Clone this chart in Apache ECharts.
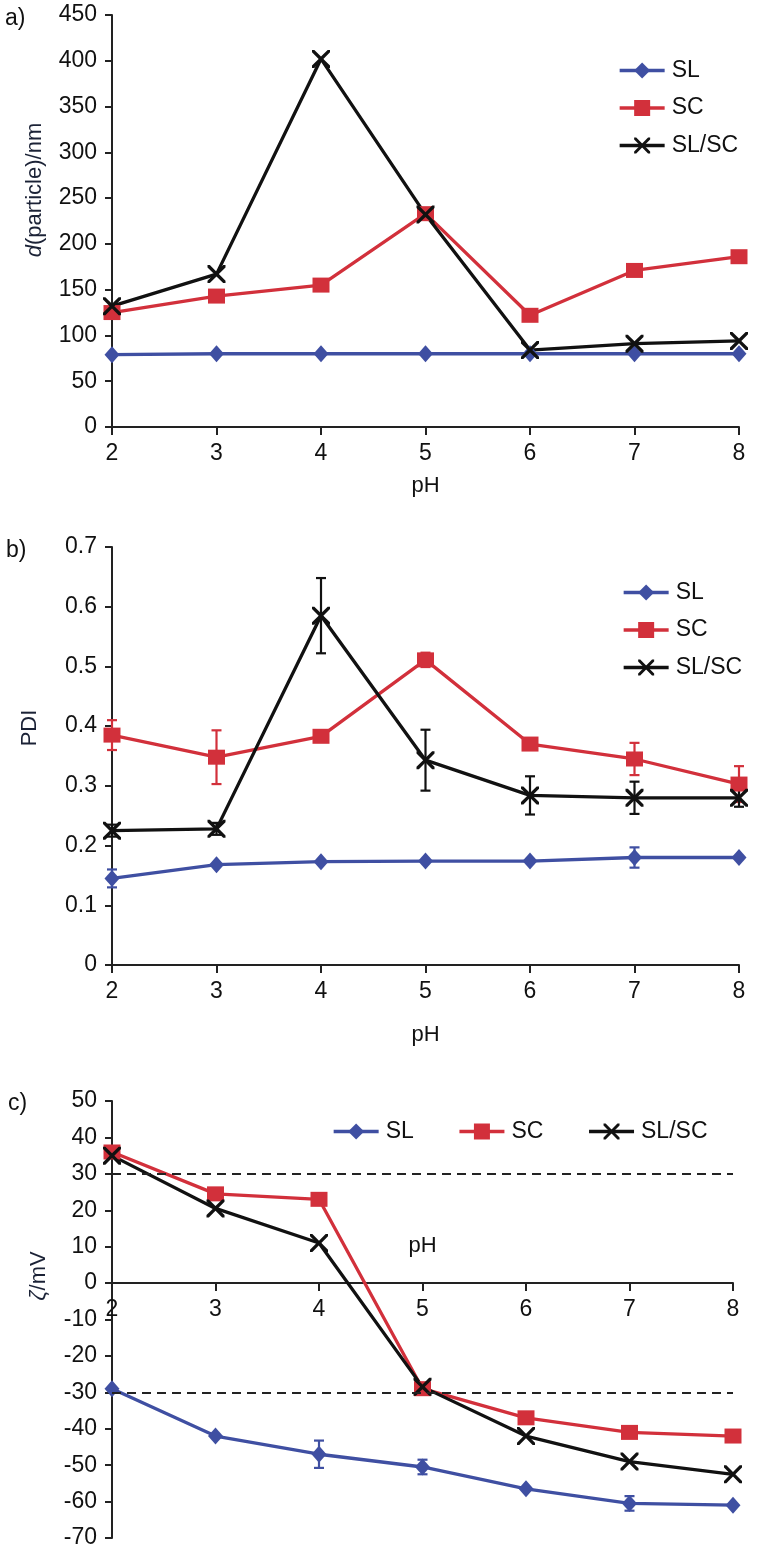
<!DOCTYPE html>
<html>
<head>
<meta charset="utf-8">
<script src="https://cdn.jsdelivr.net/npm/echarts@6/dist/echarts.min.js"></script>
<style>
html,body{margin:0;padding:0;background:#fff;}
#chart{width:758px;height:1547px;}
</style>
</head>
<body>
<div id="chart"></div>
<script>
// ---- data ----
const pH = [2, 3, 4, 5, 6, 7, 8];
const seriesNames = ['SL', 'SC', 'SL/SC'];
// a) particle size, nm
const sizeSL = [79, 80, 80, 80, 80, 80, 80];
const sizeSC = [125, 143, 155, 233, 122, 171, 186];
const sizeMix = [132, 167, 402, 232, 84, 91, 94];
// b) PDI
const pdiSL = [0.145, 0.168, 0.173, 0.174, 0.174, 0.180, 0.180];
const pdiSC = [0.385, 0.348, 0.383, 0.511, 0.370, 0.345, 0.303];
const pdiMix = [0.225, 0.228, 0.585, 0.343, 0.284, 0.280, 0.280];
const pdiErrSL = [0.015, 0, 0, 0, 0, 0.017, 0];
const pdiErrSC = [0.025, 0.045, 0.005, 0.012, 0.005, 0.027, 0.03];
const pdiErrMix = [0.01, 0.01, 0.063, 0.051, 0.032, 0.027, 0.015];
// c) zeta potential, mV
const zetaSL = [-29, -42, -47, -50.5, -56.5, -60.5, -61];
const zetaSC = [36, 24.5, 23, -29, -37, -41, -42];
const zetaMix = [35, 20.5, 11, -28.5, -42, -49, -52.5];
const zetaErrSL = [0, 0, 3.75, 2, 0, 2, 0];
const stabilityLimits = [30, -30];
// axis ticks
const sizeTicks = {min: 0, max: 450, interval: 50};
const pdiTicks = {min: 0, max: 0.7, interval: 0.1};
const zetaTicks = {min: -70, max: 50, interval: 10};

// ---- style ----
const FONT = 'Liberation Sans, Arial, sans-serif';
const FS = 23;
const BLUE = '#3f4fa2';
const RED = '#d2303b';
const BLACK = '#111111';
const colors = [BLUE, RED, BLACK];
const XPATH = 'path://M0,0 L2.6,0 L10,7.4 L17.4,0 L20,0 L20,2.6 L12.6,10 L20,17.4 L20,20 L17.4,20 L10,12.6 L2.6,20 L0,20 L0,17.4 L7.4,10 L0,2.6 Z';
const symbols = ['diamond', 'rect', XPATH];
const symbolSizes = [[15, 17], [17, 15], 18];

const chart = echarts.init(document.getElementById('chart'), null, {renderer: 'canvas'});

const grids = [
  {left: 112, top: 15, width: 627, height: 412, outerBoundsMode: 'none', containLabel: false},
  {left: 112, top: 547, width: 627, height: 418, outerBoundsMode: 'none', containLabel: false},
  {left: 112, top: 1101, width: 621, height: 437, outerBoundsMode: 'none', containLabel: false}
];
// pixel distance from bottom of grid c to its zero line (for placing the pH axis at zeta = 0)
const zeroOffsetC = -grids[2].height * (0 - zetaTicks.min) / (zetaTicks.max - zetaTicks.min);

function xAxisFor(gi, nameGap, labelMargin, offset) {
  return {
    type: 'value', gridIndex: gi, min: 2, max: 8, interval: 1, position: 'bottom', offset: offset || 0,
    name: 'pH', nameLocation: 'middle', nameGap: nameGap,
    nameTextStyle: {fontFamily: FONT, fontSize: 22, color: BLACK},
    axisLine: {show: true, onZero: false, lineStyle: {color: '#222', width: 2}},
    axisTick: {show: true, inside: false, length: 8, lineStyle: {color: '#222', width: 2}},
    axisLabel: {fontFamily: FONT, fontSize: FS, color: BLACK, margin: labelMargin},
    splitLine: {show: false}
  };
}
function yAxisFor(gi, ticks, name, nameGap, shiftPad, rich) {
  return {
    type: 'value', gridIndex: gi, min: ticks.min, max: ticks.max, interval: ticks.interval,
    name: name, nameLocation: 'middle', nameGap: nameGap,
    nameTextStyle: {fontFamily: FONT, fontSize: 22, color: '#1b2236', padding: [0, 0, 0, shiftPad], rich: rich},
    axisLine: {show: true, onZero: false, lineStyle: {color: '#222', width: 2}},
    axisTick: {show: true, inside: false, length: 7, lineStyle: {color: '#222', width: 2}},
    axisLabel: {fontFamily: FONT, fontSize: FS, color: BLACK, margin: 15},
    splitLine: {show: false}
  };
}
const italicRich = {i: {fontFamily: FONT, fontSize: 22, fontStyle: 'italic', color: '#1b2236'}};

function lineSeries(gi, idx, values) {
  return {
    type: 'line', name: seriesNames[idx], xAxisIndex: gi, yAxisIndex: gi,
    data: pH.map((p, i) => [p, values[i]]),
    symbol: symbols[idx], symbolSize: symbolSizes[idx], showAllSymbol: true,
    lineStyle: {color: colors[idx], width: 3.3},
    itemStyle: {color: colors[idx], borderWidth: 0},
    emphasis: {disabled: true}, z: 3, animation: false
  };
}
function errSeries(gi, idx, values, errs) {
  return {
    type: 'custom', name: 'err-' + gi + '-' + idx, xAxisIndex: gi, yAxisIndex: gi,
    data: pH.map((p, i) => [p, values[i], errs[i]]),
    z: 2, animation: false, silent: true,
    renderItem: function (params, api) {
      const x = api.value(0), y = api.value(1), e = api.value(2);
      if (!e) return null;
      const t = api.coord([x, y + e]);
      const b = api.coord([x, y - e]);
      const w = 5;
      const st = {stroke: colors[idx], lineWidth: 2.2};
      return {type: 'group', children: [
        {type: 'line', shape: {x1: t[0], y1: t[1], x2: b[0], y2: b[1]}, style: st},
        {type: 'line', shape: {x1: t[0] - w, y1: t[1], x2: t[0] + w, y2: t[1]}, style: st},
        {type: 'line', shape: {x1: b[0] - w, y1: b[1], x2: b[0] + w, y2: b[1]}, style: st}
      ]};
    }
  };
}

const legendText = {fontFamily: FONT, fontSize: FS, color: BLACK, padding: [0, 0, 0, 2]};
const legendCommon = {data: seriesNames, padding: 0, itemWidth: 45, itemHeight: 20, textStyle: legendText, selectedMode: false, lineStyle: {width: 3.3}};

const series = [
  lineSeries(0, 0, sizeSL), lineSeries(0, 1, sizeSC), lineSeries(0, 2, sizeMix),
  errSeries(1, 0, pdiSL, pdiErrSL), errSeries(1, 1, pdiSC, pdiErrSC), errSeries(1, 2, pdiMix, pdiErrMix),
  lineSeries(1, 0, pdiSL), lineSeries(1, 1, pdiSC), lineSeries(1, 2, pdiMix),
  errSeries(2, 0, zetaSL, zetaErrSL),
  Object.assign(lineSeries(2, 0, zetaSL), {
    markLine: {
      silent: true, symbol: ['none', 'none'], label: {show: false},
      lineStyle: {color: '#222', type: [9, 6], width: 2},
      data: stabilityLimits.map(v => ({yAxis: v}))
    }
  }),
  lineSeries(2, 1, zetaSC), lineSeries(2, 2, zetaMix)
];

const titleStyle = {fontFamily: FONT, fontSize: FS, fontWeight: 'normal', color: BLACK};
chart.setOption({
  animation: false,
  backgroundColor: '#fff',
  title: [
    {text: 'a)', left: 0, top: 2, textStyle: titleStyle},
    {text: 'b)', left: 1, top: 534, textStyle: titleStyle},
    {text: 'c)', left: 3, top: 1087, textStyle: titleStyle}
  ],
  legend: [
    Object.assign({orient: 'vertical', left: 618, top: 59, itemGap: 14.5}, legendCommon),
    Object.assign({orient: 'vertical', left: 622, top: 581, itemGap: 14.5}, legendCommon),
    Object.assign({orient: 'horizontal', left: 332, top: 1120, itemGap: 44}, legendCommon)
  ],
  grid: grids,
  xAxis: [xAxisFor(0, 48, 15), xAxisFor(1, 59, 15), xAxisFor(2, -48, 15, zeroOffsetC)],
  yAxis: [
    yAxisFor(0, sizeTicks, '{i|d}(particle)/nm', 66, 62, italicRich),
    yAxisFor(1, pdiTicks, 'PDI', 71, 56, italicRich),
    yAxisFor(2, zetaTicks, '{i|ζ}/mV', 62, 87, italicRich)
  ],
  series: series
});
</script>
</body>
</html>
